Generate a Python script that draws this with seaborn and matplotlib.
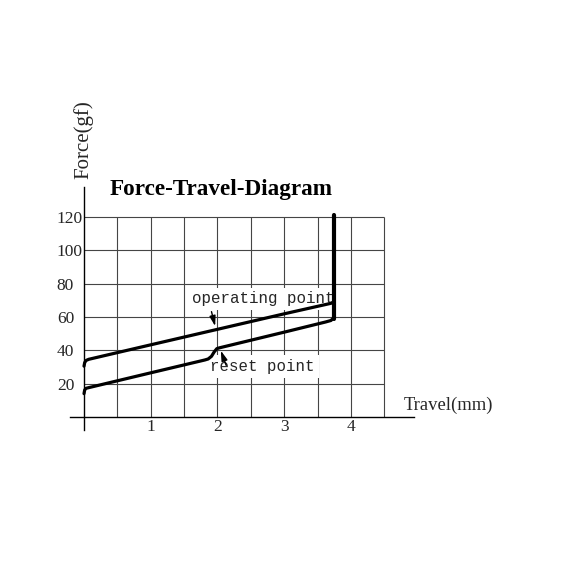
#!/usr/bin/env python3
"""Force-travel diagram of a switch: operating and reset curves on a mm grid."""

import matplotlib

matplotlib.use("Agg")
import matplotlib.pyplot as plt
import pandas as pd
import seaborn as sns

# grid and tick values (mm, gf)
GRID_TRAVEL = [0.5, 1.0, 1.5, 2.0, 2.5, 3.0, 3.5, 4.0, 4.5]
GRID_FORCE = [20, 40, 60, 80, 100, 120]
TRAVEL_TICKS = [1, 2, 3, 4]
FORCE_TICKS = [20, 40, 60, 80, 100, 120]

# operating (press) curve
OPERATING_TRAVEL = [0.0, 0.01, 0.03, 0.07, 1.0, 2.0, 3.0, 3.70, 3.735, 3.745]
OPERATING_FORCE = [30.5, 32.6, 33.9, 34.6, 43.3, 52.6, 61.9, 68.2, 68.9, 69.5]

# reset (release) curve
RESET_TRAVEL = [0.0, 0.01, 0.03, 0.07, 1.0, 1.81, 1.86, 1.91, 1.95, 1.99, 2.03,
                3.0, 3.62, 3.70, 3.735, 3.745]
RESET_FORCE = [14.0, 16.2, 17.2, 17.6, 26.5, 34.2, 34.8, 36.4, 39.0, 41.0, 41.5,
               50.9, 57.0, 57.9, 59.2, 61.0]

# end of stroke: vertical rise
STROKE_TRAVEL = [3.745, 3.745]
STROKE_FORCE = [59.0, 121.0]

LINE_COLOR = "black"
GRID_COLOR = "#454545"
TEXT_COLOR = "#262626"


def main() -> None:
    sns.set_theme(style="white")
    plt.rcParams["font.family"] = ["Liberation Serif", "DejaVu Serif"]

    fig = plt.figure(figsize=(5.64, 5.64), dpi=100)
    fig.patch.set_facecolor("white")
    ax = fig.add_axes([0.1241, 0.2376, 0.6106, 0.4309])
    ax.set_xlim(-0.21, 4.95)
    ax.set_ylim(-7.8, 138)
    ax.set_facecolor("white")

    # grid box 0..4.5 mm x 0..120 gf
    ax.vlines(GRID_TRAVEL, 0, max(GRID_FORCE), color=GRID_COLOR, lw=0.8, zorder=1)
    ax.hlines(GRID_FORCE, 0, max(GRID_TRAVEL), color=GRID_COLOR, lw=0.8, zorder=1)

    op_df = pd.DataFrame({"travel": OPERATING_TRAVEL, "force": OPERATING_FORCE})
    rs_df = pd.DataFrame({"travel": RESET_TRAVEL, "force": RESET_FORCE})
    st_df = pd.DataFrame({"travel": STROKE_TRAVEL, "force": STROKE_FORCE})
    for df, lw in ((op_df, 2.3), (rs_df, 2.3), (st_df, 3.0)):
        sns.lineplot(
            data=df, x="travel", y="force", sort=False, estimator=None,
            color=LINE_COLOR, lw=lw, ax=ax, zorder=5,
            solid_capstyle="round", solid_joinstyle="round",
        )

    # labels with white backing over the grid
    box = dict(boxstyle="square,pad=0.25", fc="white", ec="none")
    ax.text(1.62, 70.8, "operating point", family="Liberation Mono", fontsize=11.4,
            color=TEXT_COLOR, ha="left", va="center", bbox=box, zorder=3)
    ax.text(1.89, 30.2, "reset point", family="Liberation Mono", fontsize=11.3,
            color=TEXT_COLOR, ha="left", va="center", bbox=box, zorder=3)
    arrow = dict(arrowstyle="-|>,head_length=0.5,head_width=0.15", color=LINE_COLOR,
                 lw=1.0, shrinkA=0, shrinkB=0)
    ax.annotate("", xy=(1.965, 54.5), xytext=(1.91, 63.2), arrowprops=arrow, zorder=6)
    ax.annotate("", xy=(2.05, 39.8), xytext=(2.13, 31.0), arrowprops=arrow, zorder=6)

    # axes through the origin
    for side in ("top", "right"):
        ax.spines[side].set_visible(False)
    ax.spines["left"].set_position(("data", 0))
    ax.spines["bottom"].set_position(("data", 0))
    for side in ("left", "bottom"):
        ax.spines[side].set_color("black")
        ax.spines[side].set_linewidth(1.0)
        ax.spines[side].set_zorder(4)

    ax.set_xticks(TRAVEL_TICKS)
    ax.set_xticklabels([str(t) for t in TRAVEL_TICKS])
    ax.set_yticks(FORCE_TICKS)
    ax.set_yticklabels([str(f) for f in FORCE_TICKS], ha="left")
    ax.tick_params(axis="both", length=0, labelsize=12.5, labelcolor=TEXT_COLOR)
    ax.tick_params(axis="y", pad=19.6)
    ax.tick_params(axis="x", pad=1.5)
    ax.set_xlabel("")
    ax.set_ylabel("")
    ax.grid(False)

    fig.text(0.3918, 1 - 195 / 564, "Force-Travel-Diagram", fontsize=16.7,
             fontweight="bold", color="black", ha="center", va="baseline")
    fig.text(83.5 / 564, 1 - 140 / 564, "Force(gf)", fontsize=15, rotation=90,
             color=TEXT_COLOR, ha="center", va="center")
    fig.text(448 / 564, 1 - 405 / 564, "Travel(mm)", fontsize=13.4,
             color=TEXT_COLOR, ha="center", va="center")

    fig.savefig("out.png", dpi=100, facecolor="white")
    plt.close(fig)


if __name__ == "__main__":
    main()
